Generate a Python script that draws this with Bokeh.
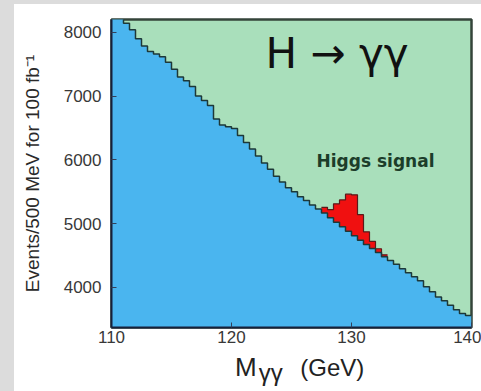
import numpy as np
from bokeh.plotting import figure
from bokeh.models import Label, FixedTicker, Range1d, Div
from bokeh.layouts import column
from bokeh.embed import file_html
from bokeh.resources import INLINE

# ---------------- data ----------------
mass_min = 110.0
bin_width = 0.5  # GeV (500 MeV bins)

background = [
    8280, 8240, 8140, 8040, 7900, 7785, 7700, 7660, 7615, 7530,
    7420, 7300, 7240, 7150, 7000, 6930, 6850, 6640, 6545, 6520,
    6490, 6380, 6270, 6170, 6060, 5950, 5850, 5740, 5650, 5560,
    5500, 5420, 5360, 5290, 5230, 5165, 5090, 5020, 4950, 4880,
    4810, 4740, 4670, 4610, 4545, 4480, 4420, 4360, 4290, 4230,
    4165, 4105, 4010, 3930, 3850, 3790, 3720, 3650, 3590, 3560,
]

signal_left = [127.5, 128.0, 128.5, 129.0, 129.5, 130.0, 130.5, 131.0, 131.5, 132.0, 132.5]
signal = [90, 130, 290, 420, 580, 640, 400, 200, 110, 60, 30]

x_ticks = [110, 120, 130, 140]
y_ticks = [4000, 5000, 6000, 7000, 8000]

x_lo, x_hi = 110, 140
y_lo, y_hi = 3370, 8200

# ---------------- colours ----------------
GREEN = "#a9dfbb"
BLUE = "#4ab5ef"
RED = "#f01010"
LINE = "#1d3838"
FONT = "Liberation Sans"

p = figure(width=467, height=348, output_backend="svg", toolbar_location=None,
           x_range=Range1d(x_lo, x_hi), y_range=Range1d(y_lo, y_hi),
           min_border_left=97, min_border_right=10, min_border_top=15,
           min_border_bottom=25)
p.background_fill_color = GREEN
p.border_fill_color = "white"
p.grid.visible = False
p.outline_line_color = "#34443a"
p.outline_line_width = 2.5

# background histogram (blue area)
edges = [mass_min + i * bin_width for i in range(len(background) + 1)]
step_x, step_y = [], []
for i, b in enumerate(background):
    step_x += [edges[i], edges[i + 1]]
    step_y += [b, b]
floor = y_lo - 500
p.patch([edges[0]] + step_x + [edges[-1]], [floor] + step_y + [floor],
        fill_color=BLUE, line_color=None)

# signal on top of background (red)
top_x, top_y, bot_y = [], [], []
for left, s in zip(signal_left, signal):
    idx = int(round((left - mass_min) / bin_width))
    b = background[idx]
    top_x += [left, left + bin_width]
    top_y += [b + s, b + s]
    bot_y += [b, b]
p.patch(top_x + top_x[::-1], top_y + bot_y[::-1], fill_color=RED, line_color=None)
p.line(top_x, top_y, line_color="#5a1a1a", line_width=1.2)

p.line(step_x, step_y, line_color=LINE, line_width=1.5)

# axes
for ax in (p.xaxis[0], p.yaxis[0]):
    ax.axis_line_color = "#16203a"
    ax.axis_line_width = 2
    ax.major_tick_in = 5
    ax.major_tick_out = 0
    ax.major_tick_line_color = "#33405a"
    ax.minor_tick_line_color = None
    ax.major_label_text_font = FONT
    ax.major_label_text_font_size = "17px"
    ax.major_label_text_color = "#383838"

p.xaxis.ticker = FixedTicker(ticks=x_ticks)
p.yaxis.ticker = FixedTicker(ticks=y_ticks)
p.xaxis.major_label_standoff = 3
p.yaxis.major_label_standoff = 10

p.yaxis.axis_label = "Events/500 MeV for 100 fb\u207b\u00b9"
p.yaxis.axis_label_text_font = FONT
p.yaxis.axis_label_text_font_size = "19px"
p.yaxis.axis_label_text_font_style = "normal"
p.yaxis.axis_label_text_color = "#2a2a2a"
p.yaxis.axis_label_standoff = 18

# annotations inside
p.add_layout(Label(x=128.8, y=7660, text="H \u2192 \u03b3\u03b3", text_font="DejaVu Sans",
                   text_font_size="42px", text_color="#111111",
                   text_baseline="middle", text_align="center"))
p.add_layout(Label(x=132.0, y=5975, text="Higgs signal", text_font="DejaVu Sans",
                   text_font_size="17px", text_font_style="bold", text_color="#1c3d2a",
                   text_baseline="middle", text_align="center"))

# x-axis title: M with subscript gamma-gamma, then (GeV)
xlabel = Div(
    text=('<div style="box-sizing:border-box;width:440px;height:37px;'
          'padding-left:221px;line-height:normal;font-family:\'Liberation Sans\';'
          'font-size:20px;color:#222222;white-space:nowrap;">'
          '<span style="font-size:26px;">M</span>'
          '<span style="font-size:24px;position:relative;top:5px;margin-left:2px;">\u03b3\u03b3</span>'
          ' <span style="font-size:24px;margin-left:12px;">(GeV)</span></div>'),
    width=467, height=37, margin=(0, 0, 0, 0))

layout = column(p, xlabel, spacing=0, margin=(4, 0, 0, 14))

tmpl = ("{% block preamble %}<style>html {background-color:#ffffff; background-image:"
        " linear-gradient(to right, #dcdcdc 14px, rgba(255,255,255,0) 14px),"
        " linear-gradient(to bottom, #dcdcdc 4px, rgba(255,255,255,0) 4px);"
        " background-repeat:no-repeat; background-size:14px 100%, 100% 4px; min-height:100%;"
        " overflow:hidden;}"
        " body {margin:0 !important; padding:0 !important; overflow:hidden;"
        " background:transparent !important;}</style>{% endblock %}")
open("out.html", "w").write(file_html(layout, INLINE, template=tmpl))
